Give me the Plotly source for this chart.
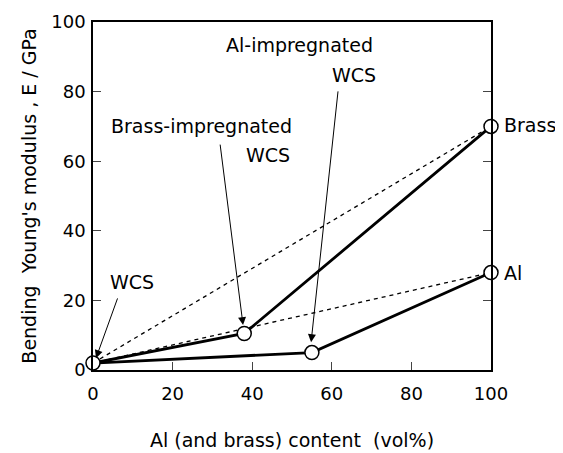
import plotly.graph_objects as go

# Data (vol% content, Young's modulus in GPa)
brass_x = [0, 38, 100]
brass_y = [2, 10.5, 70]
al_x = [0, 55, 100]
al_y = [2, 5, 28]
rule_brass_x = [0, 100]
rule_brass_y = [2, 70]
rule_al_x = [0, 100]
rule_al_y = [2, 28]
pts_x = [0, 38, 55, 100, 100]
pts_y = [2, 10.5, 5, 70, 28]
x_ticks = [0, 20, 40, 60, 80, 100]
y_ticks = [0, 20, 40, 60, 80, 100]

FONT = "DejaVu Sans, sans-serif"

fig = go.Figure()
for xs, ys in [(rule_brass_x, rule_brass_y), (rule_al_x, rule_al_y)]:
    fig.add_trace(go.Scatter(x=xs, y=ys, mode="lines",
                             line=dict(color="black", width=1.3, dash="4px,4px"),
                             cliponaxis=False, showlegend=False))
for xs, ys in [(brass_x, brass_y), (al_x, al_y)]:
    fig.add_trace(go.Scatter(x=xs, y=ys, mode="lines",
                             line=dict(color="black", width=2.8),
                             cliponaxis=False, showlegend=False))
fig.add_trace(go.Scatter(x=pts_x, y=pts_y, mode="markers",
                         marker=dict(symbol="circle", size=14, color="white",
                                     line=dict(color="black", width=1.5)),
                         cliponaxis=False, showlegend=False))

tf = dict(family=FONT, size=19, color="black")
ann = []
ann.append(dict(x=51.9, y=93.4, text="Al-impregnated", showarrow=False, font=tf))
ann.append(dict(x=65.5, y=84.8, text="WCS", showarrow=False, font=tf))
ann.append(dict(x=27.3, y=70.1, text="Brass-impregnated", showarrow=False, font=tf))
ann.append(dict(x=43.9, y=61.8, text="WCS", showarrow=False, font=tf))
ann.append(dict(x=9.9, y=25.3, text="WCS", showarrow=False, font=tf))
ann.append(dict(x=1.027, xref="paper", y=70.4, yref="y", text="Brass", showarrow=False,
                xanchor="left", font=tf))
ann.append(dict(x=1.027, xref="paper", y=28, yref="y", text="Al", showarrow=False,
                xanchor="left", font=tf))
for (tx, ty, hx, hy) in [(61.6, 80.5, 54.8, 8.0), (31.9, 65.2, 37.7, 12.9), (6.3, 21, 0.75, 3.4)]:
    ann.append(dict(x=hx, y=hy, ax=tx, ay=ty, xref="x", yref="y", axref="x", ayref="y",
                    text="", showarrow=True, arrowhead=2, arrowsize=1.6, arrowwidth=1,
                    arrowcolor="black", standoff=0))
fig.update_layout(annotations=ann)

fig.update_layout(
    width=563, height=453,
    margin=dict(l=85, r=80, t=14, b=91, autoexpand=False),
    paper_bgcolor="white", plot_bgcolor="white",
    font=dict(family=FONT, size=18, color="black"),
    xaxis=dict(range=[0, 100], tickvals=x_ticks, ticks="inside", ticklen=8, tickwidth=1.2,
               showline=True, linecolor="black", linewidth=1.5, mirror=True, automargin=False,
               showgrid=False, zeroline=False, tickfont=dict(size=18), ticklabelstandoff=7,
               title=dict(text="Al (and brass) content  (vol%)", font=dict(size=19), standoff=30)),
    yaxis=dict(range=[0, 100], tickvals=y_ticks, ticks="inside", ticklen=8, tickwidth=1.2,
               showline=True, linecolor="black", linewidth=1.5, mirror="ticks", automargin=False,
               showgrid=False, zeroline=False, tickfont=dict(size=18), ticklabelstandoff=2,
               title=dict(text="Bending  Young's modulus , E / GPa", font=dict(size=19), standoff=10)),
)

fig.write_html("out.html")
